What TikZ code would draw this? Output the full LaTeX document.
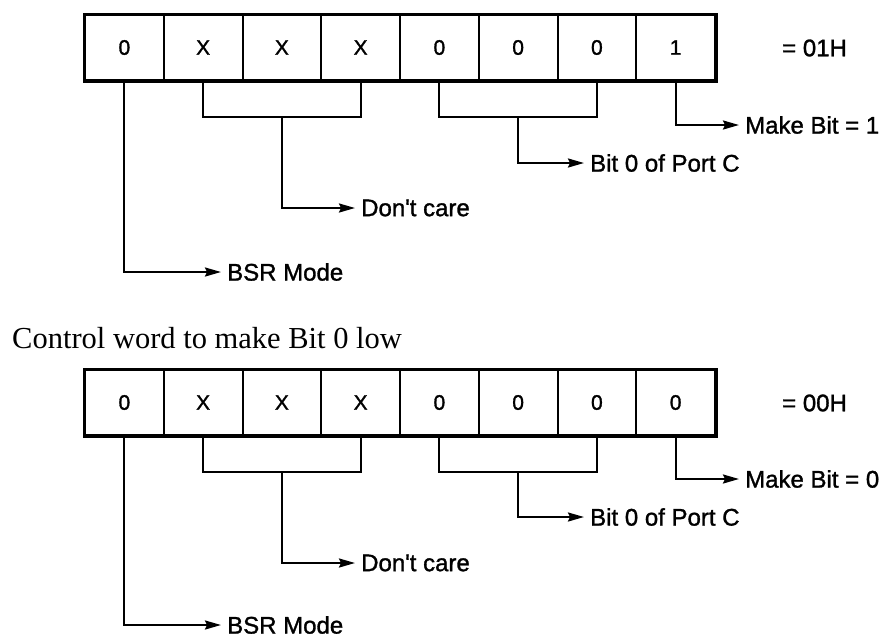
\documentclass[tikz,border=0pt]{standalone}
\usepackage{fontspec}
\setmainfont{Liberation Serif}
\newfontfamily\labfont[FakeBold=1.3]{Liberation Sans}
\usetikzlibrary{arrows.meta,calc}
\begin{document}
\begin{tikzpicture}[x=1pt,y=-1pt,
  cell/.style={draw,line width=2pt,minimum width=78.75pt,minimum height=65pt,inner sep=0pt,
    font=\labfont\fontsize{21}{21}\selectfont},
  lbl/.style={anchor=west,inner sep=0pt,font=\labfont\fontsize{24}{24}\selectfont},
  ttl/.style={anchor=west,inner sep=0pt,font=\fontsize{30.5}{30.5}\selectfont},
  wire/.style={line width=2.2pt},
  arr/.style={wire,-{Stealth[length=16pt,width=9pt,inset=2pt]},shorten >=6pt},
  frame/.style={line width=3pt},
]
\useasboundingbox (0,0) rectangle (889,638);

% ---------- top register ----------
\foreach \v [count=\i] in {0,X,X,X,0,0,0,1}
  \node[cell] (t\i) at ({85+78.75*(\i-0.5)},47.5) {\v};
\draw[frame] (t1.north west) rectangle (t8.south east);
\node[lbl] (tval) at (782,48) {= 01H};

\node[lbl] (tmb)  at (745,125) {Make Bit = 1};
\node[lbl] (tpc)  at (590,163) {Bit 0 of Port C};
\node[lbl] (tdc)  at (361,208) {Don't care};
\node[lbl] (tbsr) at (227,272) {BSR Mode};

\draw[wire] (t2.south) -- ++(0,36) coordinate (ta) -- (ta -| t4.south) coordinate (tb) -- (t4.south);
\coordinate (tdcm) at ($(ta)!0.5!(tb)$);
\draw[wire] (t5.south) -- ++(0,36) coordinate (tc) -- (tc -| t7.south) coordinate (td) -- (t7.south);
\coordinate (tpcm) at ($(tc)!0.5!(td)$);

\draw[arr] (t8.south) |- (tmb.west);
\draw[arr] (tpcm) |- (tpc.west);
\draw[arr] (tdcm) |- (tdc.west);
\draw[arr] (t1.south) |- (tbsr.west);

% ---------- title ----------
\node[ttl] (title) at (12,338) {Control word to make Bit 0 low};

% ---------- bottom register ----------
\foreach \v [count=\i] in {0,X,X,X,0,0,0,0}
  \node[cell] (b\i) at ({85+78.75*(\i-0.5)},402.5) {\v};
\draw[frame] (b1.north west) rectangle (b8.south east);
\node[lbl] (bval) at (782,403) {= 00H};

\node[lbl] (bmb)  at (745,479) {Make Bit = 0};
\node[lbl] (bpc)  at (590,517) {Bit 0 of Port C};
\node[lbl] (bdc)  at (361,563) {Don't care};
\node[lbl] (bbsr) at (227,625) {BSR Mode};

\draw[wire] (b2.south) -- ++(0,36) coordinate (ba) -- (ba -| b4.south) coordinate (bb) -- (b4.south);
\coordinate (bdcm) at ($(ba)!0.5!(bb)$);
\draw[wire] (b5.south) -- ++(0,36) coordinate (bc) -- (bc -| b7.south) coordinate (bd) -- (b7.south);
\coordinate (bpcm) at ($(bc)!0.5!(bd)$);

\draw[arr] (b8.south) |- (bmb.west);
\draw[arr] (bpcm) |- (bpc.west);
\draw[arr] (bdcm) |- (bdc.west);
\draw[arr] (b1.south) |- (bbsr.west);
\end{tikzpicture}
\end{document}
